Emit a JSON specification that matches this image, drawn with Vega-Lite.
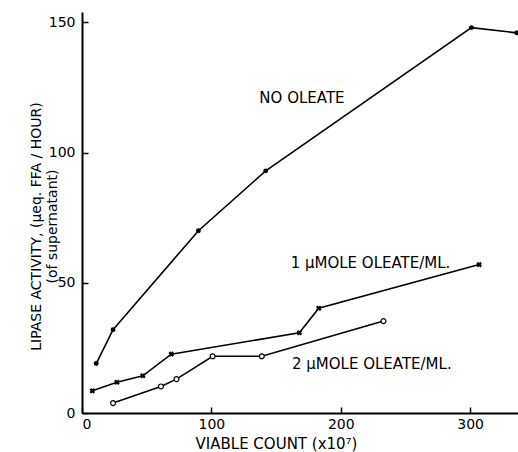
{
  "$schema": "https://vega.github.io/schema/vega-lite/v6.json",
  "width": 436,
  "height": 401,
  "autosize": "none",
  "padding": {"left": 82, "top": 12, "right": 0, "bottom": 39},
  "background": "white",
  "config": {
    "view": {"stroke": null},
    "axis": {
      "grid": false,
      "domainColor": "black",
      "domainWidth": 2,
      "tickColor": "black",
      "tickWidth": 1.5,
      "tickSize": -6,
      "labelFont": "DejaVu Sans",
      "labelFontSize": 14,
      "labelColor": "black",
      "titleFont": "DejaVu Sans",
      "titleFontSize": 15,
      "titleFontWeight": "normal",
      "titleColor": "black"
    }
  },
  "datasets": {
    "pts": [
      {"series": "none", "x": 11, "y": 19},
      {"series": "none", "x": 24, "y": 32},
      {"series": "none", "x": 90, "y": 70},
      {"series": "none", "x": 142, "y": 93},
      {"series": "none", "x": 301, "y": 148},
      {"series": "none", "x": 336, "y": 146},
      {"series": "one", "x": 8, "y": 8.5},
      {"series": "one", "x": 27, "y": 11.8},
      {"series": "one", "x": 47, "y": 14.3},
      {"series": "one", "x": 69, "y": 22.6},
      {"series": "one", "x": 168, "y": 30.8},
      {"series": "one", "x": 183, "y": 40.2},
      {"series": "one", "x": 307, "y": 57},
      {"series": "two", "x": 24, "y": 3.8},
      {"series": "two", "x": 61, "y": 10.2},
      {"series": "two", "x": 73, "y": 13},
      {"series": "two", "x": 101, "y": 21.8},
      {"series": "two", "x": 139, "y": 21.8},
      {"series": "two", "x": 233, "y": 35.3}
    ],
    "labels": [
      {"label": "NO OLEATE", "x": 170, "y": 121},
      {"label": "1 µMOLE OLEATE/ML.", "x": 223, "y": 57.5},
      {"label": "2 µMOLE OLEATE/ML.", "x": 224, "y": 19}
    ]
  },
  "layer": [
    {
      "data": {"name": "pts"},
      "mark": {"type": "line", "color": "black", "strokeWidth": 1.6},
      "encoding": {
        "x": {"field": "x", "type": "quantitative",
              "scale": {"domain": [0, 337], "nice": false, "zero": false},
              "axis": {"values": [0, 100, 200, 300], "title": "VIABLE COUNT (x10⁷)",
                       "labelPadding": 10, "titleX": 194, "titlePadding": 5}},
        "y": {"field": "y", "type": "quantitative",
              "scale": {"domain": [0, 154], "nice": false, "zero": false},
              "axis": {"values": [0, 50, 100, 150],
                       "title": ["LIPASE ACTIVITY, (µeq. FFA / HOUR)", "(of supernatant)"],
                       "titleFontSize": 14,
                       "labelPadding": 13, "titleLineHeight": 16, "titlePadding": -11, "titleY": 214}},
        "detail": {"field": "series"}
      }
    },
    {
      "data": {"name": "pts"},
      "transform": [{"filter": "datum.series === 'none'"}],
      "mark": {"type": "point", "shape": "circle", "filled": true, "color": "black", "size": 24, "opacity": 1},
      "encoding": {
        "x": {"field": "x", "type": "quantitative"},
        "y": {"field": "y", "type": "quantitative"}
      }
    },
    {
      "data": {"name": "pts"},
      "transform": [{"filter": "datum.series === 'one'"}],
      "mark": {"type": "point", "shape": "cross", "filled": true, "color": "black", "size": 32, "angle": 45, "opacity": 1},
      "encoding": {
        "x": {"field": "x", "type": "quantitative"},
        "y": {"field": "y", "type": "quantitative"}
      }
    },
    {
      "data": {"name": "pts"},
      "transform": [{"filter": "datum.series === 'two'"}],
      "mark": {"type": "point", "shape": "circle", "filled": false, "fill": "white", "stroke": "black", "strokeWidth": 1.2, "size": 24, "opacity": 1},
      "encoding": {
        "x": {"field": "x", "type": "quantitative"},
        "y": {"field": "y", "type": "quantitative"}
      }
    },
    {
      "data": {"name": "labels"},
      "mark": {"type": "text", "font": "DejaVu Sans", "fontSize": 15, "color": "black", "align": "center", "baseline": "middle"},
      "encoding": {
        "x": {"field": "x", "type": "quantitative"},
        "y": {"field": "y", "type": "quantitative"},
        "text": {"field": "label"}
      }
    }
  ]
}
